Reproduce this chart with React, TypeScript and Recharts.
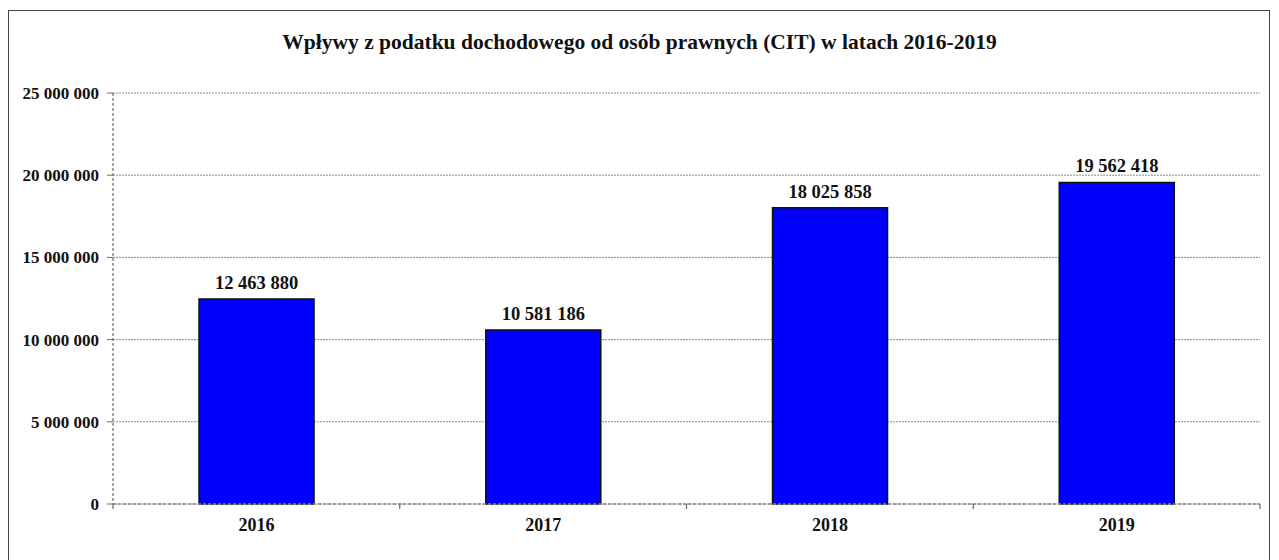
import { BarChart, Bar, XAxis, YAxis, CartesianGrid, LabelList } from 'recharts';

const YEARS = ['2016', '2017', '2018', '2019'];
const CIT_VALUES = [12463880, 10581186, 18025858, 19562418];
const Y_TICKS = [0, 5000000, 10000000, 15000000, 20000000, 25000000];

const chartData = YEARS.map((year, i) => ({ year, value: CIT_VALUES[i] }));

const FONT = '"Liberation Serif", "Times New Roman", serif';

// format numbers with a space as thousands separator
const fmt = (v: number) => String(v).replace(/\B(?=(\d{3})+(?!\d))/g, ' ');

// category tick: label in the middle, tick marks on band edges
function YearTick(props: any) {
  const { x, y, payload, index } = props;
  const half = payload?.offset ?? 0;
  const axisY = y - 8;
  return (
    <g>
      <line x1={x - half} y1={axisY} x2={x - half} y2={axisY + 5} stroke="#666" strokeWidth={1.2} />
      {index === YEARS.length - 1 && (
        <line x1={x + half} y1={axisY} x2={x + half} y2={axisY + 5} stroke="#666" strokeWidth={1.2} />
      )}
      <text x={x} y={y + 19} textAnchor="middle" fontFamily={FONT} fontWeight="bold" fontSize={18} fill="#111">
        {payload.value}
      </text>
    </g>
  );
}

export default function App() {
  return (
    <div style={{ position: 'fixed', left: 0, top: 0, width: 1279, height: 560, background: '#fff', overflow: 'hidden' }}>
      <div
        style={{
          position: 'absolute',
          left: 8,
          top: 10,
          width: 1262,
          height: 620,
          border: '1.5px solid #444',
          boxSizing: 'border-box',
        }}
      />
      <div
        style={{
          position: 'absolute',
          left: 0,
          top: 30,
          width: 1279,
          textAlign: 'center',
          fontFamily: FONT,
          fontWeight: 'bold',
          fontSize: 21.5,
          color: '#111',
        }}
      >
        Wpływy z podatku dochodowego od osób prawnych (CIT) w latach 2016-2019
      </div>
      <div style={{ position: 'absolute', left: 0, top: 0 }}>
        <BarChart
          width={1279}
          height={560}
          data={chartData}
          margin={{ top: 93, right: 19, left: 8, bottom: 26 }}
          barCategoryGap="30%"
        >
          <CartesianGrid vertical={false} stroke="#888" strokeDasharray="2 1" />
          <XAxis
            dataKey="year"
            height={30}
            axisLine={{ stroke: '#888', strokeDasharray: '3 2', strokeWidth: 1.5 }}
            tickLine={false}
            tick={<YearTick />}
            interval={0}
          />
          <XAxis
            xAxisId="top"
            orientation="top"
            dataKey="year"
            height={0}
            tick={false}
            tickLine={false}
            axisLine={{ stroke: '#999', strokeDasharray: '3 2', strokeWidth: 1.5 }}
          />
          <YAxis
            width={105}
            domain={[0, 25000000]}
            ticks={Y_TICKS}
            tickFormatter={fmt}
            tickSize={6}
            tickMargin={8}
            axisLine={{ stroke: '#888', strokeDasharray: '3 2', strokeWidth: 1.5 }}
            tickLine={{ stroke: '#666' }}
            tick={{ fontFamily: FONT, fontWeight: 'bold', fontSize: 17, fill: '#111' }}
          />
          <YAxis
            yAxisId="right"
            orientation="right"
            width={0}
            tick={false}
            tickLine={false}
            axisLine={{ stroke: '#999', strokeDasharray: '3 2', strokeWidth: 1.5 }}
          />
          <Bar dataKey="value" fill="#0000FF" stroke="#111" strokeWidth={1.5} isAnimationActive={false}>
            <LabelList
              dataKey="value"
              position="top"
              offset={10}
              formatter={(v: any) => fmt(Number(v))}
              style={{ fontFamily: FONT, fontWeight: 'bold', fontSize: 18.5, fill: '#111' }}
            />
          </Bar>
        </BarChart>
      </div>
    </div>
  );
}
